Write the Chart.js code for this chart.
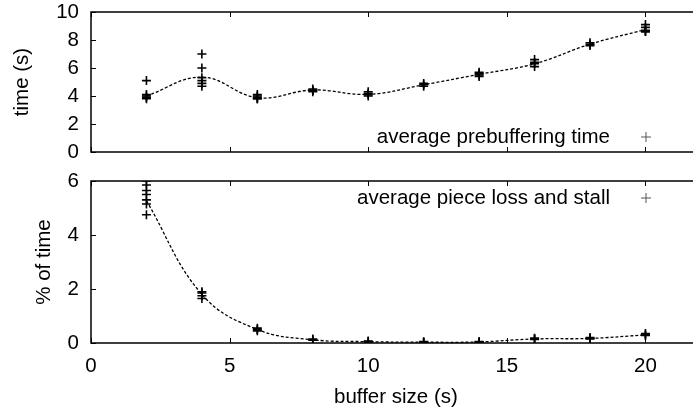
<!DOCTYPE html>
<html>
<head>
<meta charset="utf-8">
<script src="https://cdn.jsdelivr.net/npm/chart.js@4/dist/chart.umd.min.js"></script>
<style>
  html, body { margin: 0; padding: 0; background: #fff; overflow: hidden; }
  #wrap { position: relative; width: 693px; height: 410px; overflow: hidden; }
  canvas { position: absolute; left: 0; }
  #top { top: 0; }
  #bottom { top: 165px; }
</style>
</head>
<body>
<div id="wrap">
  <canvas id="top" width="707" height="165"></canvas>
  <canvas id="bottom" width="707" height="245"></canvas>
</div>
<script>
const bufferSizes = [2, 4, 6, 8, 10, 12, 14, 16, 18, 20];
const xTicks = [0, 5, 10, 15, 20];

// prebuffering time (s), every run at each buffer size
const timeRuns = [
  [5.1, 4.1, 4.0, 3.9, 3.8],
  [7.0, 6.0, 5.3, 5.1, 4.9, 4.7],
  [4.1, 4.0, 3.9, 3.8, 3.8],
  [4.5, 4.4, 4.4, 4.3],
  [4.3, 4.2, 4.1, 4.0],
  [4.9, 4.8, 4.7],
  [5.7, 5.6, 5.5, 5.4],
  [6.6, 6.4, 6.3, 6.1],
  [7.8, 7.7, 7.6],
  [9.1, 8.9, 8.7, 8.6, 8.6]
];
const timeAvg = [4.0, 5.35, 3.88, 4.43, 4.12, 4.8, 5.55, 6.3, 7.7, 8.75];
const timeTicks = [0, 2, 4, 6, 8, 10];

// piece loss and stall (% of time)
const lossRuns = [
  [6.0, 5.85, 5.65, 5.5, 5.3, 5.15, 4.75],
  [1.9, 1.85, 1.75, 1.65],
  [0.55, 0.5, 0.45],
  [0.15, 0.12, 0.1],
  [0.07, 0.05, 0.04],
  [0.05, 0.03, 0.02],
  [0.05, 0.04, 0.03],
  [0.18, 0.15, 0.13],
  [0.2, 0.17, 0.15],
  [0.35, 0.3, 0.28]
];
const lossAvg = [5.27, 1.8, 0.5, 0.12, 0.05, 0.03, 0.04, 0.15, 0.17, 0.3];
const lossTicks = [0, 2, 4, 6];

const FONT = "'Liberation Sans', Arial, Helvetica, sans-serif";
Chart.defaults.font.family = FONT;
Chart.defaults.font.size = 20.5;
Chart.defaults.color = "#000";

const runPoints = runs => {
  const pts = [];
  runs.forEach((vals, i) => {
    vals.forEach(v => pts.push({ x: bufferSizes[i], y: v }));
  });
  return pts;
};

// gnuplot style box with inward ticks, and the key on the right
const frame = {
  id: "frame",
  afterDraw(chart, args, opts) {
    const ctx = chart.ctx;
    const a = chart.chartArea;
    const xs = chart.scales.x;
    const ys = chart.scales.y;
    ctx.save();
    ctx.strokeStyle = "#000";
    ctx.lineWidth = 1.5;
    ctx.strokeRect(a.left, a.top, a.right - a.left, a.bottom - a.top);
    ctx.lineWidth = 1;
    ctx.beginPath();
    xs.ticks.forEach(t => {
      const px = Math.round(xs.getPixelForValue(t.value)) + 0.5;
      ctx.moveTo(px, a.bottom);
      ctx.lineTo(px, a.bottom - 5);
      ctx.moveTo(px, a.top);
      ctx.lineTo(px, a.top + 5);
    });
    ys.ticks.forEach(t => {
      const py = Math.round(ys.getPixelForValue(t.value)) + 0.5;
      ctx.moveTo(a.left, py);
      ctx.lineTo(a.left + 5, py);
    });
    ctx.stroke();

    // key
    ctx.font = "20.5px " + FONT;
    ctx.fillStyle = "#000";
    ctx.textAlign = "right";
    ctx.textBaseline = "middle";
    ctx.fillText(opts.label, 610, opts.y);
    ctx.strokeStyle = "#555";
    ctx.lineWidth = 1;
    ctx.beginPath();
    ctx.moveTo(641, opts.y);
    ctx.lineTo(651, opts.y);
    ctx.moveTo(646, opts.y - 5);
    ctx.lineTo(646, opts.y + 5);
    ctx.stroke();
    ctx.restore();
  }
};

const makeChart = (el, runs, avg, yTicks, opt) => new Chart(el, {
  type: "scatter",
  data: {
    datasets: [
      {
        label: "average",
        type: "line",
        data: bufferSizes.map((x, i) => ({ x: x, y: avg[i] })),
        borderColor: "#000",
        borderWidth: 1.3,
        borderDash: [3, 2],
        tension: 0.4,
        pointRadius: 0,
        fill: false
      },
      {
        label: "runs",
        data: runPoints(runs),
        pointStyle: "cross",
        pointRadius: 4.5,
        borderColor: "#000",
        borderWidth: 1.6,
        backgroundColor: "#000"
      }
    ]
  },
  options: {
    responsive: false,
    animation: false,
    layout: { padding: { top: opt.padTop, left: 0, right: 0, bottom: 0 } },
    plugins: {
      legend: { display: false },
      tooltip: { enabled: false },
      frame: { label: opt.key, y: opt.keyY }
    },
    scales: {
      x: {
        type: "linear",
        min: 0,
        max: 22,
        afterBuildTicks: s => { s.ticks = xTicks.map(v => ({ value: v })); },
        ticks: { display: opt.showX, padding: 11, autoSkip: false, maxRotation: 0 },
        grid: { display: false, drawTicks: false },
        border: { display: false },
        title: {
          display: opt.showX,
          text: "buffer size (s)",
          padding: { top: 2, bottom: 0 }
        },
        afterFit: s => {
          s.height = opt.xHeight;
          s.paddingLeft = 0;
          s.paddingRight = 0;
        }
      },
      y: {
        min: 0,
        max: yTicks[yTicks.length - 1],
        afterBuildTicks: s => { s.ticks = yTicks.map(v => ({ value: v })); },
        ticks: { padding: 12, autoSkip: false },
        grid: { display: false, drawTicks: false },
        border: { display: false },
        title: {
          display: true,
          text: opt.yTitle,
          padding: { top: opt.yTitlePad, bottom: 0 }
        },
        afterFit: s => {
          s.width = 91;
          s.paddingTop = 0;
          s.paddingBottom = 0;
        }
      }
    }
  },
  plugins: [frame]
});

makeChart(document.getElementById("top"), timeRuns, timeAvg, timeTicks, {
  padTop: 12,
  showX: false,
  xHeight: 13,
  yTitle: "time (s)",
  yTitlePad: 9.7,
  key: "average prebuffering time",
  keyY: 137
});

makeChart(document.getElementById("bottom"), lossRuns, lossAvg, lossTicks, {
  padTop: 16,
  showX: true,
  xHeight: 67,
  yTitle: "% of time",
  yTitlePad: 31.7,
  key: "average piece loss and stall",
  keyY: 33
});
</script>
</body>
</html>
